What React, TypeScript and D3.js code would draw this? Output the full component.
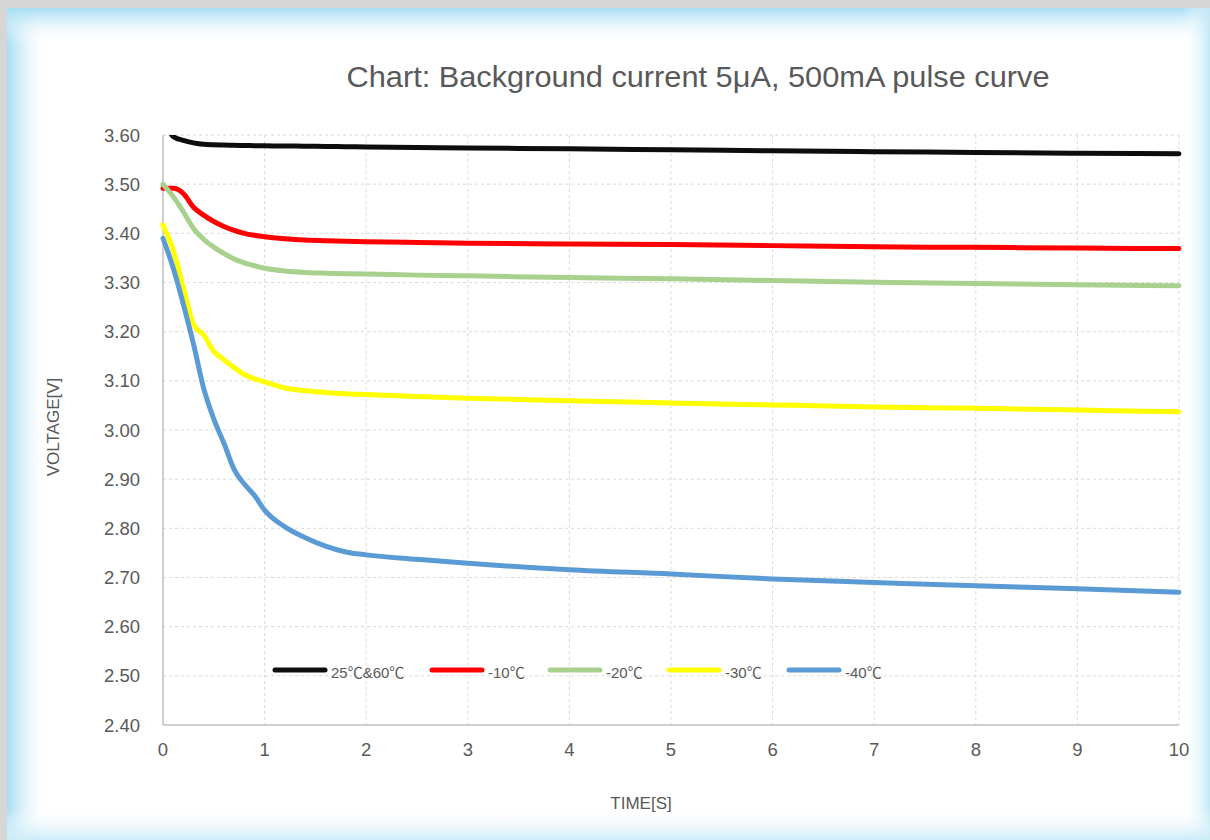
import React from "react";
import * as d3 from "d3";

const TIME_S = [0, 0.1, 0.2, 0.3, 0.4, 0.5, 0.6, 0.7, 0.8, 0.9, 1.0, 1.2, 1.4, 1.6, 1.8, 2, 2.5, 3, 4, 5, 6, 7, 8, 9, 10];

const V_25_60 = [3.64, 3.597, 3.589, 3.584, 3.581, 3.58, 3.5795, 3.579, 3.5786, 3.5783, 3.578, 3.5776, 3.5772, 3.5768, 3.5762, 3.5756, 3.5745, 3.5735, 3.572, 3.5698, 3.568, 3.566, 3.5645, 3.5628, 3.562];
const V_M10 = [3.4915, 3.4915, 3.481, 3.453, 3.437, 3.424, 3.414, 3.406, 3.4, 3.396, 3.393, 3.389, 3.3865, 3.385, 3.384, 3.383, 3.3815, 3.38, 3.3785, 3.3772, 3.375, 3.3725, 3.3715, 3.37, 3.369];
const V_M20 = [3.4997, 3.475, 3.444, 3.41, 3.388, 3.372, 3.359, 3.348, 3.34, 3.334, 3.329, 3.3235, 3.3205, 3.319, 3.318, 3.3173, 3.315, 3.3135, 3.31, 3.3075, 3.304, 3.3007, 3.298, 3.2953, 3.2932];
const V_M30 = [3.417, 3.366, 3.29, 3.215, 3.193, 3.16, 3.143, 3.127, 3.113, 3.104, 3.098, 3.0855, 3.08, 3.0765, 3.0738, 3.072, 3.068, 3.0645, 3.0595, 3.055, 3.051, 3.047, 3.044, 3.0405, 3.037];
const V_M40 = [3.39, 3.33, 3.256, 3.175, 3.085, 3.022, 2.973, 2.92, 2.89, 2.867, 2.837, 2.803, 2.781, 2.764, 2.752, 2.746, 2.737, 2.729, 2.716, 2.707, 2.697, 2.69, 2.683, 2.677, 2.67];

const SERIES_NAMES = ["25\u2103&60\u2103", "-10\u2103", "-20\u2103", "-30\u2103", "-40\u2103"];
const SERIES_VALUES = [V_25_60, V_M10, V_M20, V_M30, V_M40];
const SERIES_COLORS = ["#0d0d0d", "#ff0000", "#a9d18e", "#ffff00", "#5b9bd5"];

const X_TICKS = [0, 1, 2, 3, 4, 5, 6, 7, 8, 9, 10];
const Y_TICKS = [2.4, 2.5, 2.6, 2.7, 2.8, 2.9, 3.0, 3.1, 3.2, 3.3, 3.4, 3.5, 3.6];

const TITLE = "Chart: Background current 5\u03bcA, 500mA pulse curve";
const X_TITLE = "TIME[S]";
const Y_TITLE = "VOLTAGE[V]";

const W = 1210;
const H = 840;
const FONT = "'Liberation Sans', 'Noto Sans CJK SC', 'DejaVu Sans', sans-serif";
const TXT = "#595959";

export default function App() {
  const x = d3.scaleLinear().domain([0, 10]).range([163, 1179]);
  const y = d3.scaleLinear().domain([2.4, 3.6]).range([725, 135]);

  const line = d3
    .line<number>()
    .x((_, i) => x(TIME_S[i]))
    .y((v) => y(v))
    .curve(d3.curveMonotoneX);

  const legendLineX = [273, 430, 548, 667, 787];

  return (
    <svg
      width={W}
      height={H}
      style={{ position: "absolute", left: 0, top: 0, display: "block" }}
      fontFamily={FONT}
    >
      <defs>
        <linearGradient id="gL" x1="0" x2="1" y1="0" y2="0">
          <stop offset="0" stopColor="#a6ddf3" stopOpacity="1" />
          <stop offset="0.45" stopColor="#d3eef9" stopOpacity="0.7" />
          <stop offset="1" stopColor="#ffffff" stopOpacity="0" />
        </linearGradient>
        <linearGradient id="gR" x1="1" x2="0" y1="0" y2="0">
          <stop offset="0" stopColor="#c2e8f7" stopOpacity="1" />
          <stop offset="1" stopColor="#ffffff" stopOpacity="0" />
        </linearGradient>
        <linearGradient id="gT" x1="0" x2="0" y1="0" y2="1">
          <stop offset="0" stopColor="#a6ddf3" stopOpacity="1" />
          <stop offset="0.45" stopColor="#d3eef9" stopOpacity="0.6" />
          <stop offset="1" stopColor="#ffffff" stopOpacity="0" />
        </linearGradient>
        <linearGradient id="gB" x1="0" x2="0" y1="1" y2="0">
          <stop offset="0" stopColor="#cdebf8" stopOpacity="1" />
          <stop offset="1" stopColor="#ffffff" stopOpacity="0" />
        </linearGradient>
        <clipPath id="plotClip">
          <rect x={x(0) - 3} y={y(3.6)} width={x(10) - x(0) + 6} height={y(2.4) - y(3.6) + 3} />
        </clipPath>
      </defs>

      {/* frame */}
      <rect x={0} y={0} width={W} height={H} fill="#d6d6d6" />
      <rect x={7} y={8} width={W - 7} height={H - 8} fill="#ffffff" />
      <rect x={7} y={8} width={40} height={H - 8} fill="url(#gL)" />
      <rect x={7} y={8} width={W - 7} height={36} fill="url(#gT)" />
      <rect x={W - 28} y={8} width={28} height={H - 8} fill="url(#gR)" />
      <rect x={7} y={H - 32} width={W - 7} height={32} fill="url(#gB)" />

      {/* title */}
      <text
        x={698}
        y={87}
        textAnchor="middle"
        fontSize={29}
        fill={TXT}
        textLength={703}
        lengthAdjust="spacingAndGlyphs"
      >
        {TITLE}
      </text>

      {/* grid */}
      <g stroke="#d9d9d9" strokeWidth={1} strokeDasharray="3,3" fill="none">
        {Y_TICKS.filter((t) => t > 2.4).map((t) => (
          <line key={"h" + t} x1={x(0)} x2={x(10)} y1={y(t)} y2={y(t)} />
        ))}
        {X_TICKS.filter((t) => t > 0).map((t) => (
          <line key={"v" + t} x1={x(t)} x2={x(t)} y1={y(3.6)} y2={y(2.4)} />
        ))}
      </g>

      {/* axes */}
      <line x1={x(0)} x2={x(0)} y1={y(3.6)} y2={y(2.4)} stroke="#bfbfbf" strokeWidth={1.5} />
      <line x1={x(0)} x2={x(10)} y1={y(2.4)} y2={y(2.4)} stroke="#bfbfbf" strokeWidth={1.5} />

      {/* tick labels */}
      <g fontSize={18.5} fill={TXT}>
        {Y_TICKS.map((t) => (
          <text key={"yl" + t} x={140} y={y(t) + 6.5} textAnchor="end">
            {t.toFixed(2)}
          </text>
        ))}
        {X_TICKS.map((t) => (
          <text key={"xl" + t} x={x(t)} y={756} textAnchor="middle">
            {t}
          </text>
        ))}
      </g>

      {/* axis titles */}
      <text x={641} y={809} textAnchor="middle" fontSize={17} fill={TXT}>
        {X_TITLE}
      </text>
      <text
        transform={`translate(59,427) rotate(-90)`}
        textAnchor="middle"
        fontSize={17}
        fill={TXT}
      >
        {Y_TITLE}
      </text>

      {/* legend */}
      <g>
        {SERIES_NAMES.map((name, i) => (
          <g key={"lg" + i}>
            <line
              x1={legendLineX[i] + 2}
              x2={legendLineX[i] + 52}
              y1={670}
              y2={670}
              stroke={SERIES_COLORS[i]}
              strokeWidth={5}
              strokeLinecap="round"
            />
            <text x={legendLineX[i] + 58} y={678} fontSize={15} fill={TXT}>
              {name}
            </text>
          </g>
        ))}
      </g>

      {/* series */}
      <g clipPath="url(#plotClip)">
        {SERIES_VALUES.map((vals, i) => (
          <path
            key={"s" + i}
            d={line(vals) || ""}
            fill="none"
            stroke={SERIES_COLORS[i]}
            strokeWidth={5}
            strokeLinecap="round"
            strokeLinejoin="round"
          />
        ))}
      </g>
    </svg>
  );
}
